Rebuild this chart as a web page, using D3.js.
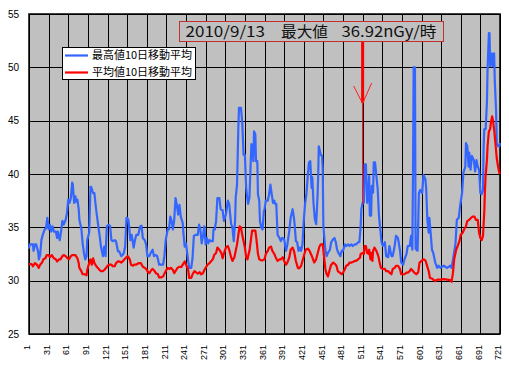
<!DOCTYPE html>
<html><head><meta charset="utf-8">
<script src="https://cdn.jsdelivr.net/npm/d3@7"></script>
<style>body{margin:0;background:#fff}svg{display:block}</style>
</head><body><svg id="c" width="509" height="367"></svg>
<script>
// ---- data ----
const xTickLabels = [1,31,61,91,121,151,181,211,241,271,301,331,361,391,421,451,481,511,541,571,601,631,661,691,721];
const yTickLabels = [25,30,35,40,45,50,55];
const seriesNames = ["最高値10日移動平均", "平均値10日移動平均"];
const seriesColors = ["#3366ff", "#ff0000"];
const titleParts = ["2010/9/13", "最大値", "36.92nGy/時"];
const peakDay = 511;
const peakValue = 36.92;

// [day, value]
const maxAvgPoints = [[1,33.0],[2,33.4],[7,33.4],[8,32.8],[10,33.4],[12,33.4],[15,32.7],[16,32.0],[18,32.4],[20,33.8],[22,34.3],[25,34.8],[27,34.9],[29,35.9],[31,34.8],[33,35.25],[35,34.6],[37,35.1],[39,34.6],[42,34.6],[44,34.0],[45,34.6],[48,33.8],[50,34.6],[52,35.6],[54,35.25],[57,35.7],[59,36.3],[61,37.6],[63,37.3],[65,37.75],[67,39.2],[68,39.0],[70,37.3],[72,37.9],[73,37.4],[75,37.6],[77,36.7],[78,35.7],[81,34.9],[83,33.5],[85,32.6],[87,32.0],[89,32.3],[90,33.8],[93,34.5],[95,38.8],[96,38.8],[99,38.2],[101,38.2],[103,37.0],[105,36.0],[107,35.1],[109,34.2],[111,33.2],[114,32.3],[116,33.2],[118,32.3],[120,35.1],[123,35.25],[125,35.1],[127,33.8],[129,33.7],[132,33.8],[134,33.7],[137,32.75],[139,32.75],[142,32.3],[144,32.4],[146,32.6],[148,33.2],[150,35.9],[151,35.9],[153,35.7],[156,33.8],[158,34.3],[161,33.1],[163,33.8],[165,34.3],[168,34.3],[171,35.1],[173,35.15],[175,34.0],[178,33.8],[180,33.4],[182,32.3],[185,32.3],[187,32.6],[190,32.9],[192,32.3],[195,32.4],[197,32.3],[200,31.5],[203,31.5],[206,31.5],[208,32.3],[210,33.8],[213,34.8],[215,34.8],[217,36.0],[219,35.6],[221,34.8],[223,35.7],[225,37.75],[227,37.1],[229,36.2],[231,37.1],[233,36.0],[236,35.4],[237,34.5],[239,33.2],[241,33.5],[244,32.0],[246,31.2],[249,31.2],[251,32.1],[253,34.2],[256,34.3],[259,34.3],[261,35.25],[263,34.8],[265,33.5],[267,34.2],[269,35.1],[271,33.4],[273,34.0],[275,33.5],[277,33.8],[279,33.7],[282,33.7],[283,34.8],[285,34.8],[287,35.6],[289,37.75],[292,37.75],[294,36.7],[297,36.6],[299,35.6],[302,36.2],[305,37.5],[307,37.2],[310,35.3],[312,35.0],[314,33.7],[316,35.6],[317,37.8],[319,39.0],[321,44.3],[322,46.2],[325,46.2],[327,44.8],[329,41.8],[331,41.8],[333,38.7],[334,38.1],[336,37.2],[338,37.8],[340,41.2],[341,42.8],[343,42.2],[344,41.2],[345,44.0],[347,43.7],[348,41.2],[350,41.2],[351,38.1],[353,37.5],[354,35.6],[356,35.0],[358,34.8],[360,36.5],[361,36.7],[363,37.5],[366,37.5],[368,38.1],[370,39.0],[372,38.1],[374,37.3],[376,37.5],[377,37.2],[379,37.2],[381,34.3],[384,34.0],[386,33.7],[388,34.0],[391,33.9],[394,32.8],[396,33.4],[399,34.7],[401,35.9],[404,36.7],[406,35.9],[407,35.3],[409,33.7],[411,33.6],[413,32.8],[415,33.1],[417,32.8],[419,33.4],[421,35.6],[423,37.2],[425,38.1],[427,39.7],[429,41.1],[431,41.2],[433,38.7],[434,39.7],[436,37.2],[438,35.75],[440,35.3],[442,37.8],[443,39.7],[444,42.6],[447,41.8],[449,41.7],[450,40.5],[451,35.1],[454,32.9],[456,32.3],[458,32.6],[461,32.9],[463,33.6],[466,33.9],[468,34.0],[470,33.6],[472,32.9],[474,32.6],[477,32.3],[479,32.8],[481,32.8],[484,33.4],[486,33.25],[489,33.4],[491,33.25],[494,33.4],[496,33.25],[499,33.4],[501,33.4],[504,33.6],[506,33.6],[508,35.1],[509,36.7],[511,37.3],[513,37.3],[514,40.9],[516,40.9],[518,37.3],[519,37.6],[521,39.8],[522,36.1],[524,36.1],[525,38.9],[527,38.25],[528,41.1],[530,41.1],[532,39.8],[534,38.6],[536,36.1],[538,34.8],[540,33.6],[542,33.25],[545,33.6],[547,32.3],[550,32.2],[552,33.25],[555,32.3],[557,32.3],[560,33.25],[562,34.2],[565,34.0],[568,32.9],[570,31.7],[573,31.5],[575,32.0],[578,32.5],[580,33.25],[583,33.25],[585,34.2],[587,32.9],[588,40.0],[589,50.0],[591,50.0],[592,33.0],[595,32.8],[597,38.2],[599,38.5],[602,38.2],[604,39.9],[607,39.5],[608,38.8],[610,35.7],[612,34.5],[613,35.9],[615,34.5],[617,32.9],[619,32.6],[622,31.7],[625,31.2],[627,31.4],[630,31.2],[635,31.4],[640,31.2],[645,31.4],[647,31.2],[650,32.3],[653,33.5],[655,35.7],[658,35.9],[660,37.0],[663,38.2],[665,40.1],[668,40.7],[669,42.9],[671,42.6],[673,40.7],[674,42.0],[676,40.4],[678,41.7],[681,41.3],[683,40.25],[685,41.3],[687,40.7],[689,40.4],[691,38.2],[693,38.1],[695,38.5],[696,42.6],[697,44.2],[699,44.2],[701,46.7],[702,49.8],[704,53.2],[705,53.2],[706,50.1],[709,51.3],[710,50.1],[712,51.3],[713,48.8],[715,46.0],[716,42.9],[718,42.6],[720,42.6],[721,42.9]];

const meanAvgPoints = [[1,31.55],[5,31.55],[7,31.35],[10,31.65],[13,31.5],[16,31.2],[18,31.5],[21,31.7],[23,32.0],[26,32.1],[28,32.4],[31,32.4],[33,32.2],[36,32.4],[39,32.1],[42,32.0],[44,31.8],[47,32.0],[49,32.0],[52,32.3],[54,32.4],[57,32.3],[60,32.1],[62,32.0],[65,32.3],[67,32.4],[70,32.4],[72,32.4],[75,32.1],[77,31.65],[78,31.2],[81,30.9],[83,30.6],[86,30.6],[89,30.5],[90,31.0],[93,31.65],[95,32.0],[97,31.5],[99,32.1],[101,31.65],[104,31.35],[106,31.2],[109,31.0],[111,30.9],[114,30.9],[116,31.0],[119,31.2],[121,31.4],[124,31.5],[127,31.5],[129,31.35],[132,31.35],[134,31.65],[137,31.8],[139,31.8],[142,31.7],[144,31.8],[147,32.0],[150,32.2],[152,32.3],[155,32.0],[157,31.5],[160,31.4],[162,31.5],[165,31.5],[167,31.6],[170,31.65],[172,31.65],[175,31.3],[178,31.2],[180,31.1],[183,30.8],[185,30.7],[188,31.0],[190,31.1],[193,30.9],[195,30.7],[198,30.6],[200,30.3],[203,30.3],[206,30.4],[208,30.65],[211,31.0],[213,31.2],[216,31.1],[218,31.2],[221,31.0],[223,30.7],[226,31.0],[228,31.2],[231,31.3],[234,31.3],[236,31.5],[239,31.8],[241,31.5],[244,31.1],[246,30.25],[249,30.25],[251,30.6],[254,30.9],[256,30.8],[259,30.65],[262,30.8],[264,30.6],[267,30.7],[269,31.0],[272,31.3],[274,31.5],[277,31.65],[279,31.8],[282,32.0],[284,32.4],[287,32.6],[289,33.1],[292,32.9],[295,32.6],[297,32.1],[300,32.75],[302,33.1],[305,33.25],[307,32.9],[310,32.2],[312,31.85],[315,32.2],[317,32.8],[319,33.4],[321,34.3],[323,35.1],[325,35.0],[327,34.3],[329,33.7],[331,33.1],[333,32.2],[335,32.0],[338,32.8],[340,33.7],[342,34.7],[344,34.7],[347,34.7],[349,33.7],[351,32.5],[353,32.0],[356,31.9],[358,31.9],[361,32.0],[363,32.5],[366,32.8],[368,33.1],[371,33.2],[373,32.8],[376,32.5],[378,32.2],[381,31.85],[384,32.0],[386,32.0],[389,32.2],[391,31.85],[394,31.5],[396,31.7],[399,32.2],[401,32.9],[404,33.1],[406,32.8],[409,31.85],[412,31.2],[414,31.15],[417,31.4],[419,31.85],[422,32.5],[424,32.9],[427,33.0],[429,32.9],[432,32.5],[434,32.2],[437,31.7],[440,32.0],[442,32.5],[445,33.2],[447,33.4],[450,33.4],[452,32.3],[454,31.1],[456,30.6],[458,30.4],[461,31.1],[463,31.5],[466,31.7],[468,31.6],[471,31.4],[473,30.9],[476,30.75],[479,30.6],[481,30.75],[484,31.1],[486,31.4],[489,31.5],[491,31.7],[494,31.7],[496,31.75],[499,31.85],[501,31.85],[504,32.0],[507,32.15],[508,32.5],[511,32.6],[513,32.5],[514,33.25],[516,33.25],[518,32.6],[520,32.5],[521,32.9],[523,32.0],[524,32.6],[526,31.85],[527,32.8],[529,33.1],[532,32.8],[535,32.3],[537,31.7],[539,31.2],[542,31.1],[545,31.1],[547,30.9],[550,30.9],[552,30.75],[555,30.6],[557,31.1],[560,31.2],[562,31.4],[565,31.4],[568,31.1],[570,30.6],[573,30.6],[575,30.6],[578,30.75],[580,30.75],[583,30.9],[585,31.1],[588,30.9],[590,30.75],[593,30.6],[596,30.8],[598,31.7],[602,31.9],[604,32.0],[607,31.9],[609,31.5],[612,30.9],[614,30.25],[617,30.2],[619,30.1],[622,29.95],[625,30.1],[630,30.1],[635,30.15],[640,30.1],[645,30.05],[647,29.9],[649,30.7],[651,32.0],[654,32.9],[656,33.2],[659,33.7],[661,34.3],[664,34.5],[666,34.8],[669,35.1],[671,35.6],[674,35.7],[677,35.9],[679,36.0],[682,36.0],[684,35.7],[687,35.7],[689,34.5],[691,34.0],[693,33.8],[695,34.2],[697,36.5],[698,38.5],[699,39.8],[701,41.3],[702,42.6],[704,44.0],[706,44.2],[707,44.8],[709,45.4],[710,45.1],[712,44.2],[714,42.9],[716,41.5],[718,40.7],[720,40.1],[721,40.0]];

// ---- layout ----
const svg = d3.select("#c");
const m = {left: 29, top: 14, right: 500, bottom: 334};
const x = d3.scaleLinear().domain([xTickLabels[0], xTickLabels[xTickLabels.length-1]]).range([m.left, m.right]);
const y = d3.scaleLinear().domain([25, 55]).range([m.bottom, m.top]);

svg.append("rect").attr("width",509).attr("height",367).attr("fill","#fff");
svg.append("rect").attr("x",m.left).attr("y",m.top).attr("width",m.right-m.left).attr("height",m.bottom-m.top).attr("fill","#c0c0c0");

// gridlines
const gx = svg.append("g").attr("transform",`translate(0,${m.bottom})`)
  .call(d3.axisBottom(x).tickValues(xTickLabels).tickSize(-(m.bottom-m.top)).tickFormat(""));
gx.select(".domain").remove();
gx.selectAll("line").attr("stroke","#000").attr("stroke-width",1).attr("shape-rendering","crispEdges");
const gy = svg.append("g").attr("transform",`translate(${m.left},0)`)
  .call(d3.axisLeft(y).tickValues(yTickLabels).tickSize(-(m.right-m.left)).tickFormat(""));
gy.select(".domain").remove();
gy.selectAll("line").attr("stroke","#000").attr("stroke-width",1).attr("shape-rendering","crispEdges");

// tick labels
svg.append("g").selectAll("text").data(yTickLabels).join("text")
  .attr("x", 19).attr("y", d=>y(d)).attr("dy","0.35em").attr("text-anchor","end")
  .attr("font-family","Liberation Sans, Arial, sans-serif").attr("font-size",10).attr("fill","#000")
  .text(d=>d);
svg.append("g").selectAll("text").data(xTickLabels).join("text")
  .attr("transform", d=>`translate(${x(d)-2},${345}) rotate(-90)`).attr("dy","0.35em").attr("text-anchor","end")
  .attr("font-family","Liberation Sans, Arial, sans-serif").attr("font-size",9).attr("fill","#000")
  .text(d=>d);

// plot border
svg.append("rect").attr("x",m.left).attr("y",m.top).attr("width",m.right-m.left).attr("height",m.bottom-m.top)
  .attr("fill","none").attr("stroke","#000").attr("stroke-width",1.5);

// lines
const line = d3.line().x(d=>x(d[0])).y(d=>y(d[1]));
[maxAvgPoints, meanAvgPoints].forEach((pts,i)=>{
  svg.append("path").datum(pts).attr("d",line).attr("fill","none")
    .attr("stroke",seriesColors[i]).attr("stroke-width",2.2).attr("stroke-linejoin","round");
});

// annotation arrow
const ax = x(peakDay);
svg.append("line").attr("x1",ax).attr("x2",ax).attr("y1",41).attr("y2",103)
  .attr("stroke","#ff0000").attr("stroke-width",3);
svg.append("line").attr("x1",ax).attr("x2",ax).attr("y1",103).attr("y2",y(peakValue)-3)
  .attr("stroke","#ff0000").attr("stroke-width",1);
svg.append("path").attr("d",`M${ax-9},86 L${ax},103.5 L${ax+9},83`)
  .attr("fill","none").attr("stroke","#ff2020").attr("stroke-width",1);

// title box
svg.append("rect").attr("x",179.5).attr("y",21.5).attr("width",264).attr("height",20)
  .attr("fill","#c0c0c0").attr("stroke","#c03030").attr("stroke-width",1);
const tpos = [[185.5,79.5],[281,47],[341.5,95]];
titleParts.forEach((t,i)=>{
  svg.append("text").attr("x",tpos[i][0]).attr("y",36.5).attr("textLength",tpos[i][1]).attr("lengthAdjust","spacingAndGlyphs")
    .attr("font-family","Noto Sans CJK JP, sans-serif").attr("font-size",15).attr("fill","#111").text(t);
});

// legend
const lg = svg.append("g");
lg.append("rect").attr("x",62.5).attr("y",47.5).attr("width",133).attr("height",32)
  .attr("fill","#fff").attr("stroke","#000").attr("stroke-width",1);
seriesNames.forEach((n,i)=>{
  const yy = 55.5 + i*17;
  lg.append("line").attr("x1",65).attr("x2",88).attr("y1",yy).attr("y2",yy)
    .attr("stroke",seriesColors[i]).attr("stroke-width",2.2);
  lg.append("text").attr("x",92).attr("y",yy).attr("dy","0.36em").attr("textLength",100).attr("lengthAdjust","spacingAndGlyphs")
    .attr("font-family","Noto Sans CJK JP, sans-serif").attr("font-size",11).attr("fill","#000").text(n);
});
</script></body></html>
